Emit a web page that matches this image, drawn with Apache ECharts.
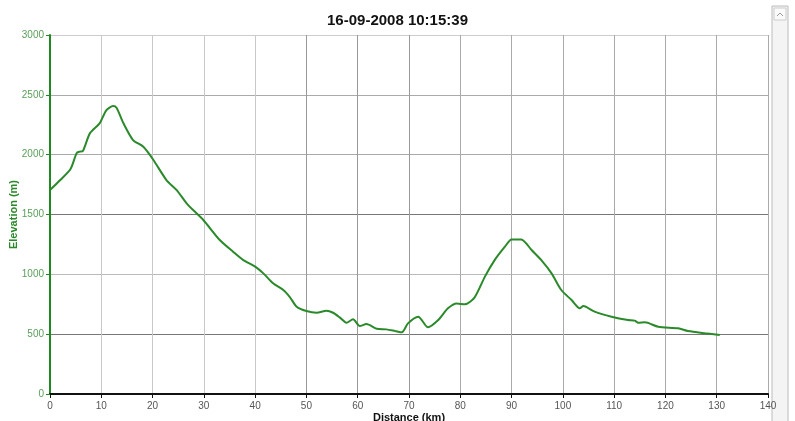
<!DOCTYPE html>
<html>
<head>
<meta charset="utf-8">
<script src="https://cdn.jsdelivr.net/npm/echarts@6/dist/echarts.min.js"></script>
<style>html,body{margin:0;padding:0;background:#fff}#c{width:795px;height:421px}</style>
</head>
<body>
<div id="c"></div>
<script>
const titleText = "16-09-2008 10:15:39";
const xName = "Distance (km)";
const yName = "Elevation (m)";
const distanceKm = [0, 2, 4, 5.2, 5.8, 6.4, 7.8, 9.7, 11, 12.3, 13, 14.3, 16.2, 18.2, 20.1, 22.7, 24.7, 26.6, 27.9, 29.9, 33.1, 35.7, 37.7, 40, 41.6, 43.5, 45.5, 46.8, 48.1, 50, 52, 53.9, 55.2, 56.5, 57.8, 59.1, 60.4, 61.7, 63.7, 65.6, 67.3, 68.6, 69.8, 71.8, 73.7, 75.7, 77.6, 79.3, 80.9, 82.8, 84.8, 86.7, 88.7, 90, 91.9, 93.9, 95.8, 97.8, 99.7, 101.7, 103.3, 104, 106.2, 109.5, 112.7, 114, 114.7, 116, 118.6, 122.5, 124.4, 127.7, 130.6];
const elevationM = [1704, 1788, 1880, 2013, 2025, 2030, 2180, 2264, 2372, 2406, 2390, 2264, 2122, 2066, 1960, 1788, 1704, 1595, 1537, 1454, 1287, 1189, 1119, 1064, 1008, 925, 869, 808, 729, 693, 679, 696, 679, 640, 596, 624, 568, 585, 546, 540, 526, 515, 590, 646, 557, 618, 716, 757, 749, 808, 981, 1119, 1231, 1292, 1292, 1203, 1119, 1008, 869, 785, 716, 735, 688, 646, 618, 613, 596, 599, 562, 549, 526, 507, 493];
const xTicks = {min: 0, max: 140, interval: 10};
const yTicks = {min: 0, max: 3000, interval: 500};

const chart = echarts.init(document.getElementById('c'), null, {renderer: 'canvas'});
const points = distanceKm.map((d, i) => [d, elevationM[i]]);
chart.setOption({
  animation: false,
  backgroundColor: '#ffffff',
  title: {
    text: titleText, left: 'center', top: 8,
    textStyle: {fontFamily: 'Liberation Sans, Arial', fontSize: 15, fontWeight: 'bold', color: '#111'}
  },
  grid: {left: 50, right: 27, top: 35, bottom: 27, containLabel: false, outerBoundsMode: 'none'},
  xAxis: {
    type: 'value', min: xTicks.min, max: xTicks.max, interval: xTicks.interval,
    name: xName, nameLocation: 'middle', nameGap: 18, nameMoveOverlap: false,
    nameTextStyle: {fontFamily: 'Liberation Sans, Arial', fontSize: 11, fontWeight: 'bold', color: '#111'},
    axisLine: {show: true, onZero: false, lineStyle: {color: '#111', width: 2}},
    axisTick: {show: true, length: 4, lineStyle: {color: '#111'}},
    axisLabel: {fontFamily: 'Liberation Sans, Arial', fontSize: 10, color: '#555', margin: 7, formatter: v => String(v)},
    splitLine: {show: true, lineStyle: {color: ['#ccc','#c8c8c8','#c8c8c8','#c8c8c8','#c8c8c8','#999','#999','#999','#aaa','#aaa','#aaa','#aaa','#aaa','#aaa','#aaa'], width: 1}}
  },
  yAxis: {
    type: 'value', min: yTicks.min, max: yTicks.max, interval: yTicks.interval,
    name: yName, nameLocation: 'middle', nameGap: 31, nameRotate: 90, nameMoveOverlap: false,
    nameTextStyle: {fontFamily: 'Liberation Sans, Arial', fontSize: 11, fontWeight: 'bold', color: '#2a8a2a'},
    axisLine: {show: true, lineStyle: {color: '#1f8a1f', width: 2}},
    axisTick: {show: true, length: 4, lineStyle: {color: '#1f8a1f'}},
    axisLabel: {fontFamily: 'Liberation Sans, Arial', fontSize: 10, color: '#5a9e5a', margin: 6, formatter: v => String(v)},
    splitLine: {show: true, lineStyle: {color: ['#ccc','#777','#bbb','#777','#aaa','#aaa','#ccc'], width: 1}}
  },
  series: [{
    type: 'line', data: points, showSymbol: false, smooth: 0.25,
    lineStyle: {color: '#2a8a2a', width: 2}
  }],
  graphic: [
    {type: 'rect', shape: {x: 772, y: 6, width: 16, height: 420}, style: {fill: '#f4f4f4', stroke: '#bcbcbc', lineWidth: 1}},
    {type: 'rect', shape: {x: 774, y: 8, width: 12, height: 12}, style: {fill: '#fafafa', stroke: '#ccc', lineWidth: 1}},
    {type: 'polyline', shape: {points: [[777, 16], [780, 13], [783, 16]]}, style: {stroke: '#999', lineWidth: 1, fill: null}}
  ]
});
</script>
</body>
</html>
